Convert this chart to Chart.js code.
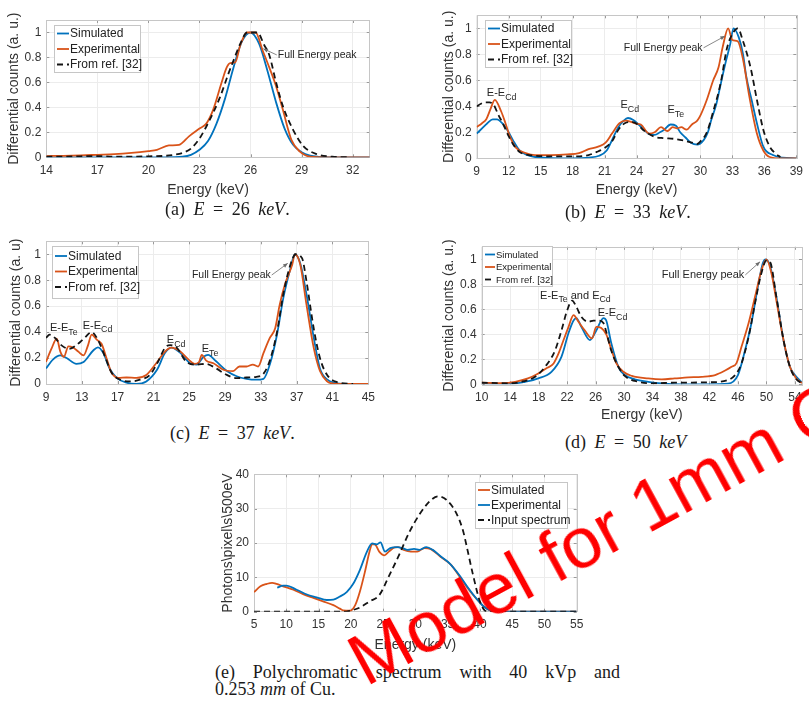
<!DOCTYPE html>
<html>
<head>
<meta charset="utf-8">
<script src="https://cdn.jsdelivr.net/npm/chart.js@4.4.1/dist/chart.umd.min.js"></script>
<style>
  html, body { margin: 0; padding: 0; background: #fff; }
  body { width: 809px; height: 703px; position: relative; overflow: hidden; }
  canvas { position: absolute; }
  .clip { position: absolute; overflow: hidden; }
  .clip canvas { left: 0; top: 0; }
  .cap { position: absolute; font-family: "Liberation Serif", "Times New Roman", serif; font-size: 18px; line-height: 20px; color: #1a1a1a; white-space: nowrap; word-spacing: 4px; }
  .cap i { font-style: italic; }
  .just { text-align: justify; text-align-last: justify; white-space: normal; word-spacing: 0; }
  .stamp { position: absolute; left: 366px; top: 626px; font-family: "Liberation Sans", Arial, sans-serif; font-size: 72px; line-height: 72px; color: #ff0000; white-space: nowrap; transform-origin: 0 61px; transform: rotate(-28.5deg); z-index: 5; }
</style>
</head>
<body>
<canvas id="ca" width="400" height="200" style="left:0;top:0"></canvas>
<canvas id="cb" width="379" height="200" style="left:430px;top:0"></canvas>
<div class="clip" style="left:0;top:225px;width:400px;height:186px">
  <canvas id="cc" width="400" height="205"></canvas>
</div>
<canvas id="cd" width="379" height="199" style="left:430px;top:225px"></canvas>
<canvas id="ce" width="400" height="195" style="left:200px;top:460px"></canvas>

<div class="cap" style="left:165px;top:199px">(a) <i>E</i> = 26 <i>keV</i>.</div>
<div class="cap" style="left:565px;top:202px">(b) <i>E</i> = 33 <i>keV</i>.</div>
<div class="cap" style="left:170px;top:423px">(c) <i>E</i> = 37 <i>keV</i>.</div>
<div class="cap" style="left:565px;top:432px">(d) <i>E</i> = 50 <i>keV</i></div>
<div class="cap just" style="left:215px;top:662px;width:405px">(e) Polychromatic spectrum with 40 kVp and</div>
<div class="cap" style="left:215px;top:679px;word-spacing:0">0.253 <i>mm</i> of Cu.</div>

<div class="stamp">Model for 1mm C</div>

<script>
// ---------- (a) E = 26 keV ----------
const aSimE = [14, 21, 22, 22.5, 23, 23.5, 24, 24.5, 25, 25.5, 26, 26.5, 27, 27.5, 28, 28.5, 29, 29.5, 30, 31, 33];
const aSimV = [0, 0, 0.005, 0.02, 0.06, 0.13, 0.27, 0.47, 0.72, 0.93, 1.0, 0.91, 0.69, 0.44, 0.23, 0.1, 0.04, 0.013, 0.004, 0, 0];
const aExpE = [14, 15, 16, 17, 18, 19, 20, 20.5, 21.2, 21.8, 22.4, 23.0, 23.4, 23.8, 24.3, 24.6, 24.8, 25.1, 25.4, 25.8, 26.3, 26.7, 27.1, 27.5, 27.9, 28.4, 28.9, 29.5, 30.5, 33];
const aExpV = [0.01, 0.012, 0.015, 0.02, 0.025, 0.035, 0.05, 0.06, 0.095, 0.10, 0.17, 0.23, 0.27, 0.38, 0.6, 0.72, 0.755, 0.76, 0.9, 1.0, 1.0, 0.86, 0.72, 0.57, 0.38, 0.14, 0.045, 0.005, 0, 0];
const aRefE = [14, 15, 16, 17, 18, 19, 20, 21, 21.5, 22, 22.5, 23, 23.6, 24.2, 24.7, 24.9, 25.4, 25.8, 26.4, 26.8, 27.1, 27.5, 27.9, 28.5, 29.1, 29.9, 30.8, 31.8];
const aRefV = [0.005, 0.005, 0.008, 0.01, 0.005, 0.005, 0.008, 0.012, 0.02, 0.035, 0.07, 0.15, 0.3, 0.48, 0.67, 0.74, 0.91, 1.0, 1.0, 0.9, 0.82, 0.6, 0.41, 0.22, 0.09, 0.025, 0.005, 0];
const aXTicks = [14, 17, 20, 23, 26, 29, 32];

// ---------- (b) E = 33 keV ----------
const bSimE = [9, 9.5, 10, 10.5, 10.9, 11.5, 12, 12.4, 13, 13.6, 14.5, 16, 18, 19.5, 20.5, 21.2, 21.7, 22.3, 22.8, 23.2, 23.7, 24.2, 24.7, 25.1, 25.7, 26.2, 26.6, 27.2, 27.7, 28.1, 28.6, 29.1, 29.7, 30.3, 30.7, 31.0, 31.5, 31.9, 32.4, 32.8, 33.1, 33.6, 34.0, 34.3, 34.8, 35.3, 35.9, 36.8, 37.7, 39];
const bSimV = [0.19, 0.23, 0.27, 0.30, 0.30, 0.26, 0.2, 0.14, 0.063, 0.03, 0.01, 0.002, 0, 0.005, 0.02, 0.06, 0.14, 0.24, 0.29, 0.31, 0.295, 0.26, 0.22, 0.19, 0.18, 0.2, 0.22, 0.26, 0.25, 0.2, 0.16, 0.12, 0.105, 0.14, 0.2, 0.29, 0.42, 0.57, 0.75, 0.88, 1.0, 0.93, 0.8, 0.63, 0.45, 0.27, 0.09, 0.025, 0.005, 0];
const bExpE = [9, 9.5, 9.9, 10.3, 10.7, 11.3, 11.7, 12.1, 12.7, 13.6, 14.5, 16, 17.5, 18.6, 19.5, 20.4, 21.1, 21.7, 22.4, 23.0, 23.5, 23.8, 24.4, 25.2, 25.7, 26.3, 26.9, 27.4, 27.8, 28.2, 28.7, 29.2, 29.7, 30.0, 30.6, 31.2, 31.7, 32.1, 32.6, 33.0, 33.5, 34.0, 34.6, 35.3, 35.9, 36.5, 37.5, 39];
const bExpV = [0.24, 0.27, 0.3, 0.38, 0.45, 0.36, 0.27, 0.17, 0.08, 0.04, 0.025, 0.025, 0.03, 0.04, 0.07, 0.09, 0.12, 0.19, 0.27, 0.29, 0.28, 0.27, 0.26, 0.19, 0.2, 0.24, 0.21, 0.24, 0.23, 0.24, 0.22, 0.26, 0.29, 0.33, 0.45, 0.6, 0.7, 0.86, 1.0, 0.91, 0.9, 0.76, 0.47, 0.19, 0.06, 0.01, 0, 0];
const bRefE = [9, 9.4, 9.8, 10.2, 10.6, 11.0, 11.5, 12.0, 12.4, 13.0, 13.6, 14.5, 16, 18, 19.5, 20.3, 21.0, 21.7, 22.3, 22.9, 23.5, 24.1, 24.6, 25.1, 25.7, 26.5, 27.5, 28.5, 29.2, 29.7, 30.0, 30.6, 31.2, 31.9, 32.5, 33.1, 33.5, 34.0, 34.7, 35.3, 35.9, 36.5, 37.0, 37.5];
const bRefV = [0.4, 0.42, 0.43, 0.43, 0.41, 0.34, 0.26, 0.17, 0.11, 0.05, 0.03, 0.02, 0.015, 0.015, 0.025, 0.05, 0.08, 0.13, 0.22, 0.27, 0.28, 0.26, 0.22, 0.19, 0.165, 0.155, 0.15, 0.135, 0.12, 0.11, 0.13, 0.2, 0.36, 0.58, 0.85, 0.97, 1.0, 0.9, 0.7, 0.45, 0.22, 0.09, 0.04, 0.01];
const bXTicks = [9, 12, 15, 18, 21, 24, 27, 30, 33, 36, 39];

// ---------- (c) E = 37 keV ----------
const cSimE = [9, 9.8, 10.6, 11.3, 12.4, 13.2, 14.3, 14.8, 15.4, 16.1, 16.9, 18.0, 19.1, 20.2, 21.4, 22.3, 23.0, 24.0, 25.1, 25.8, 26.6, 27.1, 28.0, 29.2, 30.3, 31.4, 32.5, 33.3, 34.0, 34.8, 35.5, 36.3, 36.8, 37.4, 38.1, 38.9, 39.6, 40.4, 41.5, 43, 45];
const cSimV = [0.12, 0.19, 0.22, 0.2, 0.155, 0.17, 0.26, 0.283, 0.24, 0.12, 0.047, 0.01, 0, 0.02, 0.11, 0.24, 0.28, 0.24, 0.16, 0.15, 0.21, 0.225, 0.175, 0.1, 0.06, 0.04, 0.033, 0.04, 0.15, 0.38, 0.66, 0.89, 1.0, 0.93, 0.69, 0.36, 0.12, 0.035, 0.005, 0, 0];
const cExpE = [9, 9.6, 10.2, 10.6, 11.0, 11.5, 12.05, 12.6, 13.2, 13.7, 14.1, 14.7, 15.2, 15.8, 16.3, 17.1, 18.0, 19.1, 20.2, 21.2, 22.3, 23.0, 24.0, 24.9, 25.6, 26.1, 26.4, 26.9, 27.7, 28.8, 29.9, 30.6, 31.4, 32.1, 32.7, 33.3, 34.0, 34.6, 35.1, 35.7, 36.5, 36.8, 37.4, 38.1, 38.9, 39.6, 40.4, 41.1, 42, 45];
const cExpV = [0.17, 0.27, 0.35, 0.25, 0.21, 0.29, 0.28, 0.25, 0.22, 0.30, 0.38, 0.34, 0.31, 0.19, 0.09, 0.047, 0.05, 0.047, 0.07, 0.15, 0.25, 0.28, 0.25, 0.19, 0.155, 0.17, 0.225, 0.18, 0.16, 0.11, 0.10, 0.135, 0.135, 0.15, 0.135, 0.24, 0.355, 0.43, 0.61, 0.77, 0.92, 1.0, 0.92, 0.61, 0.28, 0.1, 0.02, 0.003, 0, 0];
const cRefE = [9, 9.4, 10.0, 10.7, 11.6, 12.4, 13.3, 14.1, 14.8, 15.6, 16.3, 17.3, 18.4, 19.5, 20.6, 21.5, 22.3, 22.9, 23.6, 24.7, 25.8, 26.9, 28.0, 29.2, 30.3, 31.4, 32.5, 33.3, 34.0, 34.8, 35.5, 36.3, 36.9, 37.6, 38.1, 38.9, 39.6, 40.4, 41.5, 43.3];
const cRefV = [0.355, 0.38, 0.355, 0.3, 0.27, 0.3, 0.355, 0.40, 0.34, 0.21, 0.09, 0.033, 0.02, 0.033, 0.07, 0.17, 0.28, 0.3, 0.28, 0.17, 0.15, 0.155, 0.12, 0.07, 0.045, 0.05, 0.055, 0.08, 0.18, 0.4, 0.69, 0.92, 1.0, 0.97, 0.79, 0.43, 0.2, 0.07, 0.015, 0];
const cXTicks = [9, 13, 17, 21, 25, 29, 33, 37, 41, 45];

// ---------- (d) E = 50 keV ----------
const dSimE = [10, 12, 14, 16.1, 17.95, 19.8, 21.2, 22.2, 22.9, 23.3, 24.0, 25.2, 26.1, 27.1, 27.5, 28.2, 29.2, 30.1, 31.5, 33.4, 35.3, 38, 41.8, 44.6, 46.0, 46.9, 47.9, 48.8, 49.5, 49.9, 50.5, 51.4, 52.4, 53.3, 54.0, 55];
const dSimV = [0.008, 0.003, 0.003, 0.02, 0.047, 0.1, 0.22, 0.41, 0.51, 0.53, 0.46, 0.354, 0.43, 0.53, 0.51, 0.33, 0.14, 0.074, 0.04, 0.02, 0.007, 0, 0, 0.005, 0.074, 0.25, 0.49, 0.78, 0.97, 1.0, 0.95, 0.70, 0.354, 0.14, 0.074, 0.015];
const dExpE = [10, 12.8, 14.7, 16.5, 17.95, 19.1, 20.1, 20.8, 21.5, 22.2, 22.9, 23.6, 24.5, 25.5, 26.1, 26.8, 27.5, 28.2, 28.9, 29.9, 31.1, 33.4, 35.3, 37.1, 39.0, 40.9, 42.8, 44.2, 45.1, 45.8, 46.5, 47.5, 48.4, 49.3, 50.0, 50.7, 51.4, 52.4, 53.3, 54.2, 55];
const dExpV = [0.013, 0.01, 0.02, 0.047, 0.087, 0.128, 0.167, 0.247, 0.354, 0.46, 0.554, 0.5, 0.43, 0.367, 0.46, 0.45, 0.4, 0.28, 0.17, 0.1, 0.067, 0.047, 0.04, 0.047, 0.055, 0.06, 0.074, 0.11, 0.14, 0.17, 0.3, 0.49, 0.7, 0.91, 1.0, 0.89, 0.67, 0.354, 0.14, 0.047, 0.01];
const dRefE = [10, 13.7, 15.6, 17.5, 18.9, 20.3, 21.2, 22.0, 22.7, 23.3, 24.0, 25.0, 25.7, 26.4, 27.1, 27.5, 28.2, 29.2, 30.1, 32.0, 33.9, 37.1, 41.8, 44.6, 45.8, 46.5, 47.5, 48.4, 49.3, 50.0, 50.5, 51.4, 52.4, 53.3, 54.2, 55];
const dRefV = [0.013, 0.008, 0.02, 0.06, 0.14, 0.27, 0.43, 0.59, 0.67, 0.62, 0.54, 0.5, 0.51, 0.51, 0.49, 0.42, 0.27, 0.14, 0.067, 0.02, 0.008, 0.013, 0.016, 0.034, 0.087, 0.167, 0.38, 0.65, 0.89, 0.99, 0.98, 0.7, 0.354, 0.14, 0.04, 0.01];
const dXTicks = [10, 14, 18, 22, 26, 30, 34, 38, 42, 46, 50, 54];

const normTicks = [0, 0.2, 0.4, 0.6, 0.8, 1];

// ---------- (e) 40 kVp polychromatic spectrum ----------
const eSimE = [5, 6, 7, 7.8, 8.5, 9.5, 11.1, 12.6, 14.2, 15.7, 17.3, 18.3, 18.8, 19.9, 20.7, 21.4, 22.2, 22.9, 23.3, 23.8, 24.4, 25.2, 25.9, 26.8, 27.4, 28.2, 29.3, 30.3, 31.4, 32.4, 33.9, 35.5, 37.0, 38.5, 39.6, 40.6, 41.7, 43, 55];
const eSimV = [5.7, 7.4, 8.1, 8.4, 8.1, 7.4, 6.4, 5.1, 4.0, 3.0, 1.9, 0.9, 0.4, 0.3, 2.0, 5.8, 11.7, 17.5, 19.7, 19.5, 17.5, 16.4, 17.5, 18.7, 18.8, 18.0, 17.5, 17.5, 18.5, 18.2, 16.0, 13.7, 9.8, 5.9, 3.5, 1.5, 0.3, 0, 0];
const eExpE = [8.6, 9.5, 10.0, 11.6, 13.2, 14.7, 16.3, 17.3, 18.3, 19.4, 20.4, 21.4, 22.5, 23.3, 24.0, 24.6, 25.3, 26.1, 27.2, 28.0, 28.8, 29.8, 30.6, 31.7, 32.7, 34.0, 35.3, 36.8, 38.2, 39.6, 40.6, 41.7, 43, 55];
const eExpV = [7.0, 7.6, 7.6, 6.4, 5.0, 4.2, 3.4, 3.5, 4.4, 5.8, 8.2, 12.1, 17.5, 19.9, 19.6, 20.2, 17.5, 18.5, 18.8, 18.5, 18.0, 18.3, 18.0, 18.8, 18.0, 16.0, 14.1, 10.7, 6.9, 3.5, 1.5, 0.3, 0, 0];
const eInE = [5, 19, 19.9, 21.4, 22.9, 24.4, 26.0, 27.5, 29.0, 30.6, 32.2, 33.5, 34.8, 36.4, 37.4, 37.9, 38.9, 40.0, 40.8, 41.5, 55];
const eInV = [0, 0, 0.3, 1.2, 3.0, 4.8, 10.7, 16.6, 22.9, 28.2, 32.1, 33.6, 32.6, 28.5, 23.5, 19.5, 11.0, 3.0, 0.3, 0, 0];
const eXTicks = [5, 10, 15, 20, 25, 30, 35, 40, 45, 50, 55];
const eYTicks = [0, 10, 20, 30, 40];

// ---------- shared styling ----------
const FONT = '"Liberation Sans", Arial, Helvetica, sans-serif';
const BLUE = '#0072BD', ORANGE = '#D95319', BLACK = '#141414';
const TXT = '#333333', GRID = '#ececec';

function line(label, xs, ys, color, dashed, order) {
  return {
    label,
    data: xs.map((x, i) => ({ x, y: ys[i] })),
    borderColor: color,
    backgroundColor: color,
    borderWidth: 1.8,
    borderDash: dashed ? [6, 4] : [],
    pointRadius: 0,
    cubicInterpolationMode: 'monotone',
    fill: false,
    order
  };
}

// axes box plus small inward tick marks
const framePlugin = {
  id: 'frame',
  beforeDatasetsDraw(chart) {
    const { ctx, chartArea: a, scales: { x, y } } = chart;
    ctx.save();
    ctx.lineWidth = 1;
    ctx.strokeStyle = '#9a9a9a';
    x.ticks.forEach(t => {
      const px = Math.round(x.getPixelForValue(t.value)) + 0.5;
      ctx.beginPath();
      ctx.moveTo(px, a.bottom); ctx.lineTo(px, a.bottom - 3);
      ctx.moveTo(px, a.top); ctx.lineTo(px, a.top + 3);
      ctx.stroke();
    });
    y.ticks.forEach(t => {
      const py = Math.round(y.getPixelForValue(t.value)) + 0.5;
      ctx.beginPath();
      ctx.moveTo(a.left, py); ctx.lineTo(a.left + 3, py);
      ctx.moveTo(a.right, py); ctx.lineTo(a.right - 3, py);
      ctx.stroke();
    });
    ctx.strokeStyle = '#c6c6c6';
    ctx.strokeRect(Math.round(a.left) + 0.5, Math.round(a.top) + 0.5,
                   Math.round(a.right - a.left), Math.round(a.bottom - a.top));
    ctx.restore();
  }
};

// boxed legend placed inside the plotting area
const legendPlugin = {
  id: 'boxLegend',
  afterDatasetsDraw(chart, args, o) {
    if (!o || !o.w) return;
    const { ctx, chartArea: a } = chart;
    const left = Math.round(o.right ? a.right - o.dx - o.w : a.left + o.dx);
    const top = Math.round(a.top + o.dy);
    ctx.save();
    ctx.fillStyle = '#fff';
    ctx.fillRect(left, top, o.w, o.h);
    ctx.strokeStyle = '#c6c6c6';
    ctx.lineWidth = 1;
    ctx.strokeRect(left + 0.5, top + 0.5, o.w, o.h);
    ctx.font = o.size + 'px ' + FONT;
    ctx.textBaseline = 'middle';
    chart.data.datasets.forEach((ds, i) => {
      const yy = top + o.first + i * o.row;
      ctx.strokeStyle = ds.borderColor;
      ctx.lineWidth = ds.borderWidth;
      ctx.setLineDash(ds.borderDash);
      ctx.beginPath();
      ctx.moveTo(left + 3, yy);
      ctx.lineTo(left + 3 + o.len, yy);
      ctx.stroke();
      ctx.setLineDash([]);
      ctx.fillStyle = '#222';
      ctx.fillText(ds.label, left + 4 + o.len, yy + 0.5);
    });
    ctx.restore();
  }
};

// peak labels with subscripts and the optional pointer arrow
const notesPlugin = {
  id: 'notes',
  afterDatasetsDraw(chart, args, o) {
    if (!o || !o.items) return;
    const { ctx, scales: { x, y } } = chart;
    ctx.save();
    ctx.textBaseline = 'middle';
    o.items.forEach(it => {
      const size = it.size || 10.5;
      const subSize = size * 0.8;
      let w = 0;
      it.parts.forEach(p => {
        ctx.font = (p.sub ? subSize : size) + 'px ' + FONT;
        w += ctx.measureText(p.t).width;
      });
      let px = x.getPixelForValue(it.x);
      const py = y.getPixelForValue(it.y);
      if (it.align === 'right') px -= w;
      let cx = px;
      ctx.fillStyle = '#262626';
      it.parts.forEach(p => {
        ctx.font = (p.sub ? subSize : size) + 'px ' + FONT;
        ctx.fillText(p.t, cx, py + (p.sub ? size * 0.38 : 0));
        cx += ctx.measureText(p.t).width;
      });
      if (it.to) {
        const tx = x.getPixelForValue(it.to[0]);
        const ty = y.getPixelForValue(it.to[1]);
        const sx = tx > px + w ? px + w + 1 : px - 1;
        const sy = py;
        ctx.strokeStyle = '#6b6b6b';
        ctx.fillStyle = '#6b6b6b';
        ctx.lineWidth = 0.8;
        ctx.beginPath(); ctx.moveTo(sx, sy); ctx.lineTo(tx, ty); ctx.stroke();
        const ang = Math.atan2(ty - sy, tx - sx);
        ctx.beginPath();
        ctx.moveTo(tx, ty);
        ctx.lineTo(tx - 5 * Math.cos(ang - 0.4), ty - 5 * Math.sin(ang - 0.4));
        ctx.lineTo(tx - 5 * Math.cos(ang + 0.4), ty - 5 * Math.sin(ang + 0.4));
        ctx.closePath();
        ctx.fill();
      }
    });
    ctx.restore();
  }
};

function panel(id, c) {
  return new Chart(document.getElementById(id), {
    type: 'line',
    data: { datasets: c.datasets },
    options: {
      responsive: false,
      animation: false,
      devicePixelRatio: 1,
      layout: { padding: { left: 0, top: c.padTop, right: c.padRight, bottom: 0 } },
      plugins: {
        legend: { display: false },
        tooltip: { enabled: false },
        boxLegend: c.legend,
        notes: { items: c.notes }
      },
      scales: {
        x: {
          type: 'linear', min: c.xMin, max: c.xMax,
          afterBuildTicks: s => { s.ticks = c.xTicks.map(v => ({ value: v })); },
          afterFit: s => { s.height = c.xH; },
          grid: { color: GRID, drawTicks: false },
          border: { display: false },
          ticks: { padding: 6, color: TXT, font: { family: FONT, size: 12 }, maxRotation: 0, autoSkip: false, callback: v => String(v) },
          title: { display: true, text: 'Energy (keV)', color: TXT, font: { family: FONT, size: 14 }, padding: { top: 0, bottom: c.xTitlePad } }
        },
        y: {
          type: 'linear', min: c.yMin, max: c.yMax,
          afterBuildTicks: s => { s.ticks = c.yTicks.map(v => ({ value: v })); },
          afterFit: s => { s.width = c.yW; },
          grid: { color: GRID, drawTicks: false },
          border: { display: false },
          ticks: { padding: 5, color: TXT, font: { family: FONT, size: 12 }, autoSkip: false, callback: v => String(v) },
          title: { display: true, text: c.yTitle, color: TXT, font: { family: FONT, size: 14 }, padding: { top: c.yTitlePad, bottom: 0 } }
        }
      }
    },
    plugins: [framePlugin, legendPlugin, notesPlugin]
  });
}

const normLegend = { w: 86, h: 47, dx: 8, dy: 5, first: 8.5, row: 15.5, size: 12, len: 12 };
const sub = (a, b) => [{ t: a }, { t: b, sub: true }];

panel('ca', {
  datasets: [
    line('Simulated', aSimE, aSimV, BLUE, false, 3),
    line('Experimental', aExpE, aExpV, ORANGE, false, 2),
    line('From ref. [32]', aRefE, aRefV, BLACK, true, 1)
  ],
  xMin: 14, xMax: 33, xTicks: aXTicks, yMin: 0, yMax: 1.1, yTicks: normTicks,
  padTop: 20, padRight: 30.3, xH: 42.7, yW: 46.3, xTitlePad: 1.6, yTitlePad: 5.6,
  yTitle: 'Differential counts (a. u.)',
  legend: normLegend,
  notes: [
    { parts: [{ t: 'Full Energy peak' }], x: 27.6, y: 0.82, to: [26.75, 0.87] }
  ]
});

panel('cb', {
  datasets: [
    line('Simulated', bSimE, bSimV, BLUE, false, 3),
    line('Experimental', bExpE, bExpV, ORANGE, false, 2),
    line('From ref. [32]', bRefE, bRefV, BLACK, true, 1)
  ],
  xMin: 9, xMax: 39, xTicks: bXTicks, yMin: 0, yMax: 1.1, yTicks: normTicks,
  padTop: 15.3, padRight: 9, xH: 41.7, yW: 46.7, xTitlePad: 1.6, yTitlePad: 10.6,
  yTitle: 'Differential counts (a. u.)',
  legend: normLegend,
  notes: [
    { parts: [{ t: 'Full Energy peak' }], x: 30.2, y: 0.85, align: 'right', to: [32.3, 0.94] },
    { parts: sub('E-E', 'Cd'), x: 9.95, y: 0.5, size: 11 },
    { parts: sub('E', 'Cd'), x: 22.5, y: 0.41, size: 11 },
    { parts: sub('E', 'Te'), x: 26.9, y: 0.37, size: 11 }
  ]
});

// the x title of this panel sits below the clipping box, as in the printed page
panel('cc', {
  datasets: [
    line('Simulated', cSimE, cSimV, BLUE, false, 3),
    line('Experimental', cExpE, cExpV, ORANGE, false, 2),
    line('From ref. [32]', cRefE, cRefV, BLACK, true, 1)
  ],
  xMin: 9, xMax: 45, xTicks: cXTicks, yMin: 0, yMax: 1.1, yTicks: normTicks,
  padTop: 16.3, padRight: 31.7, xH: 46, yW: 46, xTitlePad: 0, yTitlePad: 7.6,
  yTitle: 'Differential counts (a. u)',
  legend: { w: 86, h: 52, dx: 6, dy: 5, first: 10, row: 15.5, size: 12, len: 12 },
  notes: [
    { parts: [{ t: 'Full Energy peak' }], x: 25.3, y: 0.84, to: [36.0, 0.93] },
    { parts: sub('E-E', 'Te'), x: 9.45, y: 0.43, size: 11 },
    { parts: sub('E-E', 'Cd'), x: 13.1, y: 0.45, size: 11 },
    { parts: sub('E', 'Cd'), x: 22.5, y: 0.34, size: 11 },
    { parts: sub('E', 'Te'), x: 26.4, y: 0.27, size: 11 }
  ]
});

panel('cd', {
  datasets: [
    line('Simulated', dSimE, dSimV, BLUE, false, 3),
    line('Experimental', dExpE, dExpV, ORANGE, false, 2),
    line('From ref. [32]', dRefE, dRefV, BLACK, true, 1)
  ],
  xMin: 10, xMax: 55, xTicks: dXTicks, yMin: 0, yMax: 1.1, yTicks: normTicks,
  padTop: 21.8, padRight: 7, xH: 39.7, yW: 51.7, xTitlePad: 0.6, yTitlePad: 10.6,
  yTitle: 'Differential counts (a. u.)',
  legend: { w: 70, h: 40, dx: 0, dy: -1, first: 8.5, row: 12.5, size: 9.5, len: 10 },
  notes: [
    { parts: [{ t: 'E-E' }, { t: 'Te', sub: true }, { t: ' and E' }, { t: 'Cd', sub: true }], x: 18.2, y: 0.71, size: 11 },
    { parts: sub('E-E', 'Cd'), x: 26.3, y: 0.57, size: 11 },
    { parts: [{ t: 'Full Energy peak' }], x: 35.3, y: 0.875, size: 11, to: [49.1, 0.98] }
  ]
});

panel('ce', {
  datasets: [
    line('Simulated', eSimE, eSimV, ORANGE, false, 3),
    line('Experimental', eExpE, eExpV, BLUE, false, 2),
    line('Input spectrum', eInE, eInV, BLACK, true, 1)
  ],
  xMin: 5, xMax: 55, xTicks: eXTicks, yMin: 0, yMax: 40, yTicks: eYTicks,
  padTop: 14.3, padRight: 23.3, xH: 43.3, yW: 54, xTitlePad: 1.6, yTitlePad: 19.6,
  yTitle: 'Photons\\pixel\\s\\500eV',
  legend: { right: true, w: 92, h: 46, dx: 10, dy: 8, first: 8, row: 15, size: 12, len: 12 },
  notes: []
});
</script>
</body>
</html>
